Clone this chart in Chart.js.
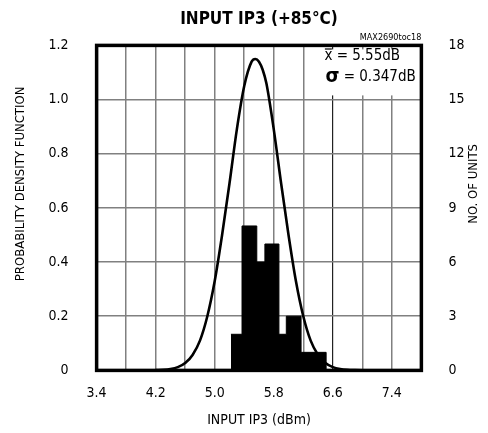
<!DOCTYPE html>
<html><head><meta charset="utf-8">
<script src="https://cdn.jsdelivr.net/npm/chart.js@4/dist/chart.umd.min.js"></script>
<style>html,body{margin:0;padding:0;background:#fff}#wrap{width:488px;height:433px;position:relative}</style>
</head><body><div id="wrap"><canvas id="c"></canvas></div>
<script>
// Fitted probability density curve
const pdfX = [4.2, 4.3, 4.4, 4.5, 4.6, 4.7, 4.8, 4.9, 5.0, 5.1, 5.2, 5.3, 5.4, 5.5, 5.55, 5.6, 5.65, 5.7, 5.8, 5.9, 6.0, 6.1, 6.2, 6.3, 6.4, 6.5, 6.6, 6.7, 6.8, 6.9, 7.0, 7.2];
const pdfY = [0.001, 0.002, 0.005, 0.012, 0.027, 0.057, 0.11, 0.20, 0.33, 0.50, 0.69, 0.89, 1.05, 1.14, 1.15, 1.14, 1.11, 1.06, 0.89, 0.69, 0.50, 0.33, 0.20, 0.11, 0.057, 0.027, 0.012, 0.005, 0.002, 0.001, 0.0005, 0];
// Histogram: bin edges (dBm) and number of units per bin
const binEdges = [5.22, 5.37, 5.57, 5.68, 5.87, 5.97, 6.17, 6.51];
const binCounts = [2, 8, 6, 7, 2, 3, 1];
// Tick labels
const xTickLabels = ['3.4', '4.2', '5.0', '5.8', '6.6', '7.4'];
const yLeftTickLabels = ['0', '0.2', '0.4', '0.6', '0.8', '1.0', '1.2'];
const yRightTickLabels = ['0', '3', '6', '9', '12', '15', '18'];
// Texts
const chartTitle = 'INPUT IP3 (+85°C)';
const xTitle = 'INPUT IP3 (dBm)';
const yLeftTitle = 'PROBABILITY DENSITY FUNCTION';
const yRightTitle = 'NO. OF UNITS';
const meanSym = 'x';
const meanText = ' = 5.55dB';
const sigmaSym = 'σ';
const sigmaText = ' = 0.347dB';
const partNo = 'MAX2690toc18';

const FONT = "'Liberation Sans Narrow','DejaVu Sans Condensed','Roboto Condensed',sans-serif";

const histData = binEdges.map((e, i) => ({x: e, y: i < binCounts.length ? binCounts[i] : binCounts[binCounts.length - 1]}));
histData.push({x: binEdges[binEdges.length - 1], y: 0});
const pdfData = pdfX.map((x, i) => ({x: x, y: pdfY[i]}));

const overlay = {
  id: 'overlay',
  beforeDatasetsDraw(chart) {
    const ctx = chart.ctx, a = chart.chartArea;
    ctx.save();
    // white box behind the statistics text
    ctx.fillStyle = '#fff';
    ctx.fillRect(a.right - 102, a.top + 4, 100, 46);
    ctx.fillStyle = '#000';
    ctx.textBaseline = 'middle';
    ctx.textAlign = 'left';
    ctx.font = '15px ' + FONT;
    const mx = a.right - 97, my = a.top + 11;
    ctx.fillText(meanSym, mx, my);
    const xw = ctx.measureText(meanSym).width;
    ctx.fillRect(mx + 0.5, my - 8, xw - 1, 1.2);
    ctx.fillText(meanText, mx + xw, my);
    ctx.font = 'bold 20px ' + FONT;
    const sx = a.right - 96, sy = a.top + 32;
    ctx.fillText(sigmaSym, sx, sy - 1);
    const w = ctx.measureText(sigmaSym).width;
    ctx.font = '15px ' + FONT;
    ctx.fillText(sigmaText, sx + w, sy);
    ctx.restore();
  },
  afterDatasetsDraw(chart) {
    const ctx = chart.ctx, a = chart.chartArea;
    ctx.save();
    ctx.strokeStyle = '#000';
    ctx.lineWidth = 3.5;
    ctx.strokeRect(a.left, a.top, a.right - a.left, a.bottom - a.top);
    ctx.restore();
  },
  afterDraw(chart) {
    const ctx = chart.ctx, a = chart.chartArea;
    ctx.save();
    ctx.fillStyle = '#000';
    ctx.font = '9px ' + FONT;
    ctx.textAlign = 'right';
    ctx.textBaseline = 'middle';
    ctx.fillText(partNo, a.right, a.top - 8);
    // vertical axis titles, both reading bottom-to-top
    ['y', 'y1'].forEach(id => {
      const s = chart.scales[id];
      const t = s.options.title;
      const fs = t.font.size, lh = fs * 1.2;
      const x = id === 'y' ? s.left + t.padding.top + lh / 2 : s.right - t.padding.top - lh / 2;
      const y = (a.top + a.bottom) / 2 - 24;
      ctx.save();
      ctx.translate(x, y);
      ctx.rotate(-Math.PI / 2);
      ctx.font = fs + 'px ' + FONT;
      ctx.textAlign = 'center';
      ctx.textBaseline = 'middle';
      ctx.fillStyle = '#000';
      ctx.fillText(t.text, 0, 0);
      ctx.restore();
    });
    ctx.restore();
  }
};

new Chart(document.getElementById('c'), {
  type: 'line',
  data: {
    datasets: [
      {
        label: 'PDF', data: pdfData, yAxisID: 'y',
        borderColor: '#000', borderWidth: 2.6, pointRadius: 0,
        cubicInterpolationMode: 'monotone', fill: false
      },
      {
        label: 'Units', data: histData, yAxisID: 'y1',
        borderColor: '#000', backgroundColor: '#000', borderWidth: 1,
        pointRadius: 0, stepped: 'before', fill: 'origin'
      }
    ]
  },
  options: {
    responsive: true, maintainAspectRatio: false, animation: false,
    layout: {padding: {left: 0, right: 0, top: 2, bottom: 4}},
    plugins: {
      legend: {display: false}, tooltip: {enabled: false},
      title: {display: true, text: chartTitle, fullSize: false, color: '#000',
        font: {family: FONT, size: 17, weight: 'bold'}, padding: {top: 7, bottom: 16}}
    },
    scales: {
      x: {
        type: 'linear', min: 3.4, max: 7.8,
        ticks: {stepSize: 0.4, autoSkip: false, maxRotation: 0, padding: 15, color: '#000',
          font: {family: FONT, size: 14},
          callback: (v, i) => (i % 2 === 0 ? xTickLabels[i / 2] : '')},
        grid: {
          color: c => (c.tick && Math.abs(c.tick.value - 6.6) < 0.01 ? '#222' : '#808080'),
          lineWidth: c => (c.tick && Math.abs(c.tick.value - 6.6) < 0.01 ? 1.2 : 1.5),
          drawTicks: false
        },
        border: {display: false},
        title: {display: true, text: xTitle, color: '#000', font: {family: FONT, size: 14}, padding: {top: -5, bottom: 0}}
      },
      y: {
        position: 'left', min: 0, max: 1.2,
        ticks: {stepSize: 0.2, padding: 28, color: '#000', font: {family: FONT, size: 14},
          callback: (v, i) => yLeftTickLabels[i]},
        grid: {color: '#808080', lineWidth: 1.5, drawTicks: false},
        border: {display: false},
        title: {display: true, text: yLeftTitle, color: 'rgba(0,0,0,0)', font: {family: FONT, size: 13}, padding: {top: 13, bottom: -8}}
      },
      y1: {
        position: 'right', min: 0, max: 18,
        ticks: {stepSize: 3, padding: 27, color: '#000', font: {family: FONT, size: 14},
          callback: (v, i) => yRightTickLabels[i]},
        grid: {display: false, drawTicks: false},
        border: {display: false},
        title: {display: true, text: yRightTitle, color: 'rgba(0,0,0,0)', font: {family: FONT, size: 13}, padding: {top: 7, bottom: -26}}
      }
    }
  },
  plugins: [overlay]
});
</script>
</body></html>
